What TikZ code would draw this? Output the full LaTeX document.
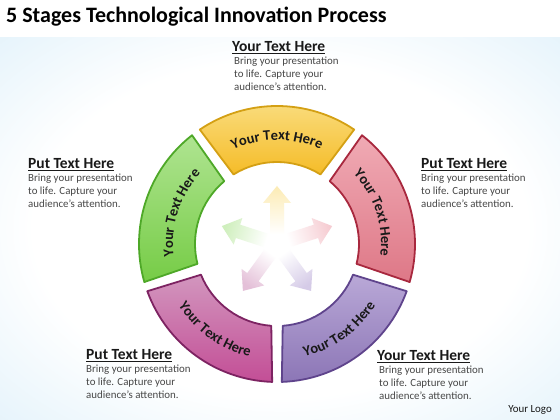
\documentclass[tikz,border=0pt]{standalone}
\usepackage{fontspec}
\setmainfont{Carlito}
\usepackage{xcolor}
\usepackage{tikz}
\usetikzlibrary{calc, positioning}
\usetikzlibrary{decorations.text}

\definecolor{yellowlt}{RGB}{250,222,130}
\definecolor{yellowdk}{RGB}{245,188,40}
\definecolor{yellowbd}{RGB}{212,160,20}
\definecolor{greenlt}{RGB}{175,228,145}
\definecolor{greendk}{RGB}{118,204,70}
\definecolor{greenbd}{RGB}{78,168,40}
\definecolor{redlt}{RGB}{240,170,180}
\definecolor{reddk}{RGB}{222,120,135}
\definecolor{redbd}{RGB}{168,40,62}
\definecolor{magentalt}{RGB}{210,150,190}
\definecolor{magentadk}{RGB}{195,78,150}
\definecolor{magentabd}{RGB}{125,35,98}
\definecolor{purplelt}{RGB}{185,168,215}
\definecolor{purpledk}{RGB}{140,118,182}
\definecolor{purplebd}{RGB}{95,68,140}
\definecolor{textdk}{RGB}{25,25,25}

\pgfdeclareradialshading{bgglow}{\pgfpoint{0bp}{0bp}}{rgb(0bp)=(1,1,1); rgb(22bp)=(1,1,1); rgb(50bp)=(0.80,0.91,0.97); rgb(72bp)=(0.78,0.90,0.97)}

\newcommand\segfont{\fontsize{14.5}{14.5}\selectfont\bfseries}

\begin{document}
\begin{tikzpicture}[x=1pt, y=1pt]
	% 背景
	\useasboundingbox (0,0) rectangle (560,420);
	\fill[white] (0,0) rectangle (560,420);
	\shade[shading=bgglow] (0,0) rectangle (560,382);

	% 样式
	\tikzset{
	halo/.style = {draw=white, line width=5pt, line join=round},
	heading/.style = {font=\fontsize{15.5}{17}\selectfont\bfseries, inner sep=0pt, anchor=west, text=textdk},
	body/.style = {font=\fontsize{10.9}{13}\selectfont, align=left, inner sep=0pt, anchor=north west, text=textdk!80}
	}

	% 标题
	\node (title) [anchor=west, inner sep=0pt, font=\fontsize{22}{24}\selectfont\bfseries] at (6,403) {5 Stages Technological Innovation Process};

	\coordinate (c) at (277,176);

	\begin{scope}[shift={(c)}]
		% 绘制圆环
		\foreach \a/\lt/\dk/\bd in {90/yellowlt/yellowdk/yellowbd, 162/greenlt/greendk/greenbd, 234/magentalt/magentadk/magentabd, 306/purplelt/purpledk/purplebd, 18/redlt/reddk/redbd}{
			\draw[halo] ({\a+34}:138) arc[start angle=\a+34, end angle=\a-34, radius=138] -- ({\a-32}:82) arc[start angle=\a-32, end angle=\a+32, radius=82] -- cycle;
			\path[top color=\lt, bottom color=\dk, draw=\bd, line width=1.8pt, line join=round] ({\a+34}:138) arc[start angle=\a+34, end angle=\a-34, radius=138] -- ({\a-32}:82) arc[start angle=\a-32, end angle=\a+32, radius=82] -- cycle;
		}

		% 圆环文字
		\foreach \s/\e/\r in {122/58/104, 194/130/104, 50/-14/104, 202/266/116, 274/338/116}
			\path[decorate, decoration={text along path, text align=center, text color=textdk, text={|\segfont|Your Text Here}}] (\s:\r) arc[start angle=\s, end angle=\e, radius=\r];

		% 中心箭头
		\foreach \a/\t/\cl in {90/0/yellowlt, 162/72/greenlt, 18/-72/redlt, 234/144/magentalt, 306/216/purplelt}
			\shade[rotate=\a, top color=\cl!60, bottom color=white, shading angle=\t]
				(10,-7) -- (41,-7) -- (41,-14) -- (58,0) -- (41,14) -- (41,7) -- (10,7) -- cycle;
	\end{scope}

	% 说明文字
	\node (thead) [heading] at (232,372) {\underline{Your Text Here}};
	\node (tbody) [below=2pt of thead.south west, body, xshift=2pt] {Bring your presentation\\to life. Capture your\\audience’s attention.};

	\node (lhead) [heading] at (28,255) {\underline{Put Text Here}};
	\node (lbody) [below=2pt of lhead.south west, body] {Bring your presentation\\to life. Capture your\\audience’s attention.};

	\node (rhead) [heading] at (421,255) {\underline{Put Text Here}};
	\node (rbody) [below=2pt of rhead.south west, body] {Bring your presentation\\to life. Capture your\\audience’s attention.};

	\node (blhead) [heading] at (86,64) {\underline{Put Text Here}};
	\node (blbody) [below=2pt of blhead.south west, body] {Bring your presentation\\to life. Capture your\\audience’s attention.};

	\node (brhead) [heading] at (377,63) {\underline{Your Text Here}};
	\node (brbody) [below=2pt of brhead.south west, body, xshift=2pt] {Bring your presentation\\to life. Capture your\\audience’s attention.};

	\node (logo) [anchor=east, inner sep=0pt, font=\fontsize{10.9}{12}\selectfont, text=textdk] at (552,10) {Your Logo};
\end{tikzpicture}
\end{document}
